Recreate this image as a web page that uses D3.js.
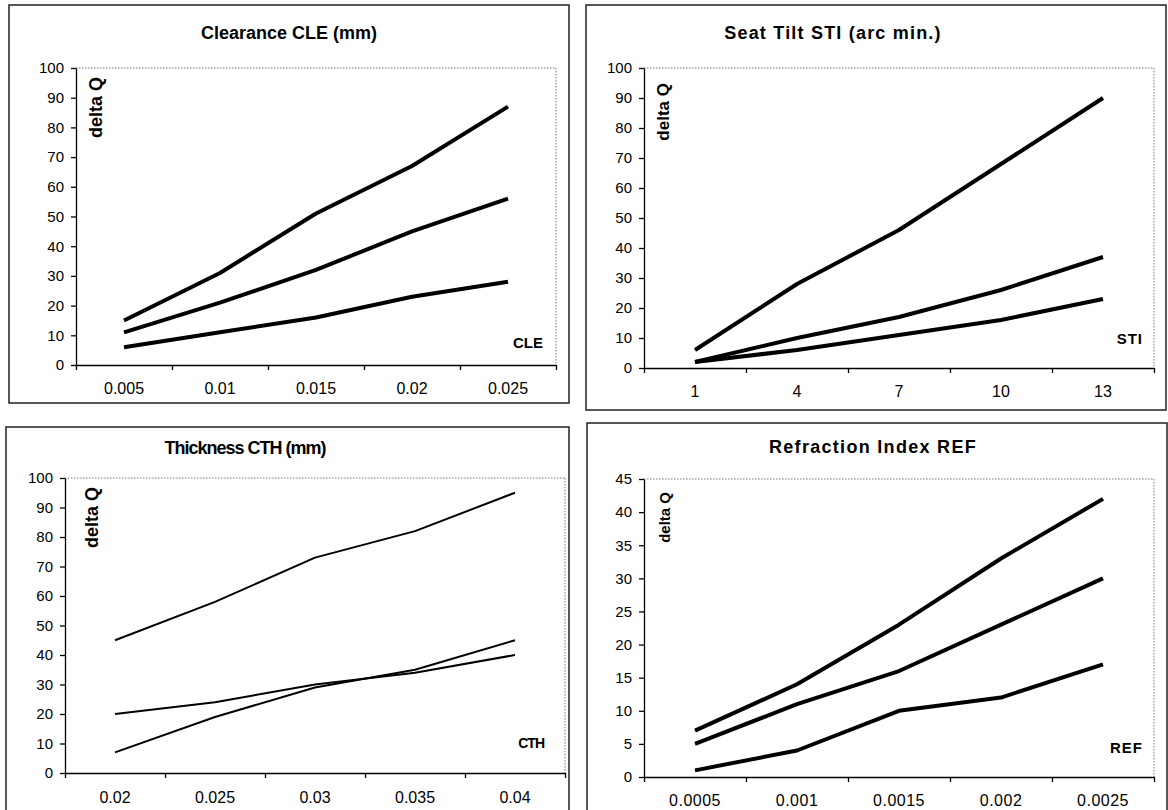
<!DOCTYPE html>
<meta charset="utf-8">
<style>
    body { margin: 0; background: #fff; }
    svg { display: block; font-family: Arial, "Liberation Sans", sans-serif; }
    .frame { fill: none; stroke: #222; stroke-width: 1.5px; }
    .plotedge { stroke: #777; stroke-width: 1px; stroke-dasharray: 1.5 1.5; }
    .axis path, .axis line { stroke: #000; stroke-width: 1.3px; }
    .axis text { font-size: 15px; fill: #000; }
    .xlabels text { font-size: 16px; }
    .series { fill: none; stroke: #000; stroke-linejoin: round; stroke-linecap: butt; }
    .title { font-weight: bold; font-size: 18px; }
    .lab { font-weight: bold; font-size: 14px; }
</style>
<body>
<svg id="chart" width="1168" height="810"></svg>
</body>
<script src="https://d3js.org/d3.v7.min.js"></script>
<script>

    // Clearance CLE
    var cleCats = ["0.005", "0.01", "0.015", "0.02", "0.025"];
    var cleHigh = [15, 31, 51, 67, 87];
    var cleMid = [11, 21, 32, 45, 56];
    var cleLow = [6, 11, 16, 23, 28];

    // Seat tilt STI
    var stiCats = ["1", "4", "7", "10", "13"];
    var stiHigh = [6, 28, 46, 68, 90];
    var stiMid = [2, 10, 17, 26, 37];
    var stiLow = [2, 6, 11, 16, 23];

    // Thickness CTH
    var cthCats = ["0.02", "0.025", "0.03", "0.035", "0.04"];
    var cthHigh = [45, 58, 73, 82, 95];
    var cthMid = [20, 24, 30, 34, 40];
    var cthLow = [7, 19, 29, 35, 45];

    // Refraction index REF
    var refCats = ["0.0005", "0.001", "0.0015", "0.002", "0.0025"];
    var refHigh = [7, 14, 23, 33, 42];
    var refMid = [5, 11, 16, 23, 30];
    var refLow = [1, 4, 10, 12, 17];

    var svg = d3.select("#chart");

    function drawPanel(p) {
        var g = svg.append("g");

        g.append("rect").attr("class", "frame")
            .attr("x", p.frame[0]).attr("y", p.frame[1])
            .attr("width", p.frame[2] - p.frame[0]).attr("height", p.frame[3] - p.frame[1]);

        g.append("text").attr("class", "title")
            .attr("x", p.titlePos[0]).attr("y", p.titlePos[1])
            .attr("text-anchor", "middle").attr("dominant-baseline", "central")
            .style("letter-spacing", p.titleSpacing || null)
            .text(p.title);

        var x = d3.scaleBand().domain(p.cats).range([p.plot[0], p.plot[2]]);
        var xb = d3.scaleLinear().domain([0, p.cats.length]).range([p.plot[0], p.plot[2]]);
        var y = d3.scaleLinear().domain([0, p.ymax]).range([p.plot[3], p.plot[1]]);

        // dotted plot-area border (top and right)
        g.append("line").attr("class", "plotedge")
            .attr("x1", xb(0)).attr("x2", xb(p.cats.length))
            .attr("y1", y(p.ymax)).attr("y2", y(p.ymax));
        g.append("line").attr("class", "plotedge")
            .attr("x1", xb(p.cats.length)).attr("x2", xb(p.cats.length))
            .attr("y1", y(p.ymax)).attr("y2", y(0));

        g.append("g").attr("class", "axis")
            .attr("transform", "translate(" + p.plot[0] + ",0)")
            .call(d3.axisLeft(y).tickValues(d3.range(0, p.ymax + 1, p.ystep))
                .tickSize(5).tickSizeOuter(0).tickPadding(5))
            .selectAll("text").attr("dx", "-2");

        g.append("g").attr("class", "axis")
            .attr("transform", "translate(0," + p.plot[3] + ")")
            .call(d3.axisBottom(xb).ticks(p.cats.length).tickSize(5).tickSizeOuter(0).tickFormat(""));

        var xl = g.append("g").attr("class", "axis xlabels")
            .attr("transform", "translate(0," + p.plot[3] + ")")
            .call(d3.axisBottom(x).tickSize(0).tickPadding(p.labelPad));
        xl.select(".domain").remove();
        xl.selectAll("text").style("letter-spacing", p.tickSpacing || null);

        var line = d3.line()
            .x(function (d, i) { return x(p.cats[i]) + x.bandwidth() / 2; })
            .y(function (d) { return y(d); });

        g.selectAll("path.series").data(p.series).enter().append("path")
            .attr("class", "series")
            .attr("stroke-width", p.lineWidth)
            .attr("d", line);

        g.append("text").attr("class", "lab")
            .attr("transform", "translate(" + p.yLabPos[0] + "," + p.yLabPos[1] + ") rotate(-90)")
            .attr("text-anchor", "end").attr("dominant-baseline", "central")
            .style("font-size", p.yLabSize)
            .text("delta Q");

        g.append("text").attr("class", "lab")
            .attr("x", p.xLabPos[0]).attr("y", p.xLabPos[1])
            .attr("text-anchor", "end").attr("dominant-baseline", "central")
            .style("font-size", p.xLabSize || null)
            .style("letter-spacing", p.xLabSpacing || null)
            .text(p.xLab);
    }

    drawPanel({
        frame: [9, 5, 569, 403], plot: [76, 68, 556, 365],
        title: "Clearance CLE (mm)", titlePos: [289, 33],
        cats: cleCats, series: [cleHigh, cleMid, cleLow], ymax: 100, ystep: 10,
        lineWidth: 4, labelPad: 18, yLabPos: [96, 77], yLabSize: "18px",
        xLab: "CLE", xLabPos: [543, 342], xLabSize: "15px"
    });

    drawPanel({
        frame: [586, 5, 1166, 410], plot: [644, 68, 1154, 368],
        title: "Seat Tilt  STI (arc min.)", titlePos: [833, 33], titleSpacing: "1.2px",
        cats: stiCats, series: [stiHigh, stiMid, stiLow], ymax: 100, ystep: 10,
        lineWidth: 4, labelPad: 18, yLabPos: [663, 83], yLabSize: "17px",
        xLab: "STI", xLabPos: [1143, 338], xLabSize: "15px", xLabSpacing: "1px"
    });

    drawPanel({
        frame: [6, 427, 569, 830], plot: [65, 478, 565, 773],
        title: "Thickness CTH (mm)", titlePos: [245, 448], titleSpacing: "-1px",
        cats: cthCats, series: [cthHigh, cthMid, cthLow], ymax: 100, ystep: 10,
        lineWidth: 2, labelPad: 19, yLabPos: [92, 487], yLabSize: "18px",
        xLab: "CTH", xLabPos: [544, 743], xLabSize: "14px", xLabSpacing: "-1px"
    });

    drawPanel({
        frame: [587, 423, 1167, 830], plot: [644, 479, 1154, 777],
        title: "Refraction Index REF", titlePos: [873, 447], titleSpacing: "1.3px",
        cats: refCats, series: [refHigh, refMid, refLow], ymax: 45, ystep: 5,
        lineWidth: 4, labelPad: 18, yLabPos: [664, 492], yLabSize: "15px", tickSpacing: "0.5px",
        xLab: "REF", xLabPos: [1143, 747], xLabSize: "15px", xLabSpacing: "1px"
    });

</script>
